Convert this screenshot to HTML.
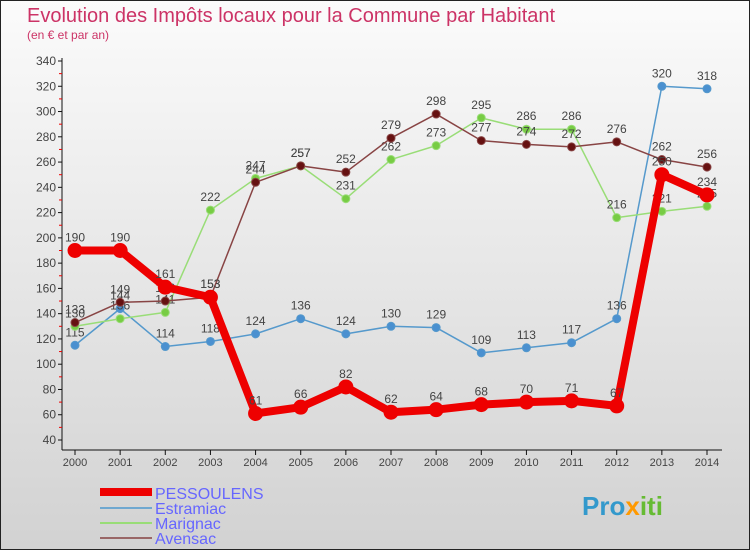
<!DOCTYPE html>
<html><head><meta charset="utf-8"><style>
body{margin:0;width:750px;height:550px;overflow:hidden;font-family:"Liberation Sans",sans-serif}
svg{display:block}
</style></head><body>
<svg id="chart" width="750" height="550">
<defs><linearGradient id="bg" x1="0" y1="0" x2="0" y2="1"><stop offset="0" stop-color="#fbfbfb"/><stop offset="1" stop-color="#d2d2d2"/></linearGradient></defs>
<rect x="0.5" y="0.5" width="749" height="549" fill="url(#bg)" stroke="#222"/>
<text x="27" y="22" font-size="20" fill="#cc3366">Evolution des Impôts locaux pour la Commune par Habitant</text>
<text x="27" y="39" font-size="12" fill="#cc3366">(en € et par an)</text>
<g id="axes"></g><g id="series"></g>
<g>
<rect x="100" y="488" width="52" height="8" fill="#ee0000"/>
<text x="155" y="499" font-size="16" fill="#6666ff">PESSOULENS</text>
<line x1="100" y1="508" x2="152" y2="508" stroke="#6fa8d0" stroke-width="2"/>
<text x="155" y="514" font-size="16" fill="#6666ff">Estramiac</text>
<line x1="100" y1="523" x2="152" y2="523" stroke="#99dd77" stroke-width="2"/>
<text x="155" y="529" font-size="16" fill="#6666ff">Marignac</text>
<line x1="100" y1="538" x2="152" y2="538" stroke="#996666" stroke-width="2"/>
<text x="155" y="544" font-size="16" fill="#6666ff">Avensac</text>
</g>
<text x="582" y="515" font-size="26" font-weight="bold" fill="#3399cc">Pro<tspan fill="#ff9900">x</tspan><tspan fill="#66bb33">iti</tspan></text>
</svg>
<script>
const years=[2000,2001,2002,2003,2004,2005,2006,2007,2008,2009,2010,2011,2012,2013,2014];
const yTicks=[40,60,80,100,120,140,160,180,200,220,240,260,280,300,320,340];
const pessoulens=[190,190,161,153,61,66,82,62,64,68,70,71,67,250,234];
const estramiac=[115,144,114,118,124,136,124,130,129,109,113,117,136,320,318];
const marignac=[130,136,141,222,247,257,231,262,273,295,286,286,216,221,225];
const avensac=[133,149,150,153,244,257,252,279,298,277,274,272,276,262,256];
const NS='http://www.w3.org/2000/svg';
const X=i=>75+i*(707-75)/(years.length-1);
const Y=v=>440-(v-40)*(440-61)/300;
function mk(tag,attrs,parent){const e=document.createElementNS(NS,tag);for(const k in attrs)e.setAttribute(k,attrs[k]);parent.appendChild(e);return e;}
const ax=document.getElementById('axes');
const yl=mk('line',{x1:62,y1:58,x2:62,y2:450,stroke:'#111'},ax);


const xl=mk('line',{x1:62,y1:450,x2:722,y2:450,stroke:'#111'},ax);


yTicks.forEach(v=>{
 mk('line',{x1:58,y1:Y(v),x2:62,y2:Y(v),stroke:'#111'},ax);
 if(v<340) mk('line',{x1:59,y1:Y(v+10),x2:62,y2:Y(v+10),stroke:'#e00'},ax);
 const t=mk('text',{x:56,y:Y(v)+4,'text-anchor':'end','font-size':12,fill:'#444'},ax);
 
 
 t.textContent=v;
});
years.forEach((y,i)=>{
 mk('line',{x1:X(i),y1:450,x2:X(i),y2:455,stroke:'#111'},ax);
 const t=mk('text',{x:X(i),y:466,'text-anchor':'middle','font-size':11,fill:'#444'},ax);
 
 
 t.textContent=y;
});
const sg=document.getElementById('series');
function draw(data,name,color,dot,w,r){
 const g=mk('g',{},sg);
 
 
 const p=mk('polyline',{points:data.map((v,i)=>X(i)+','+Y(v)).join(' '),fill:'none',stroke:color,'stroke-width':w,'stroke-linejoin':'round'},g);
 
 
 data.forEach((v,i)=>{
  const c=mk('circle',{cx:X(i),cy:Y(v),r:r,fill:dot,stroke:color,'stroke-width':1},g);
  
  
  const t=mk('text',{x:X(i),y:Y(v)-9,'text-anchor':'middle','font-size':12,fill:'#444'},g);
  
  
  t.textContent=v;
 });
}
draw(estramiac,'estramiac','#5599cc','#4a90d0',1.5,4);
draw(marignac,'marignac','#99dd77','#77cc44',1.5,4);
draw(avensac,'avensac','#884444','#661111',1.5,4);
draw(pessoulens,'pessoulens','#ee0000','#ee0000',8,7);
</script>
</body></html>
